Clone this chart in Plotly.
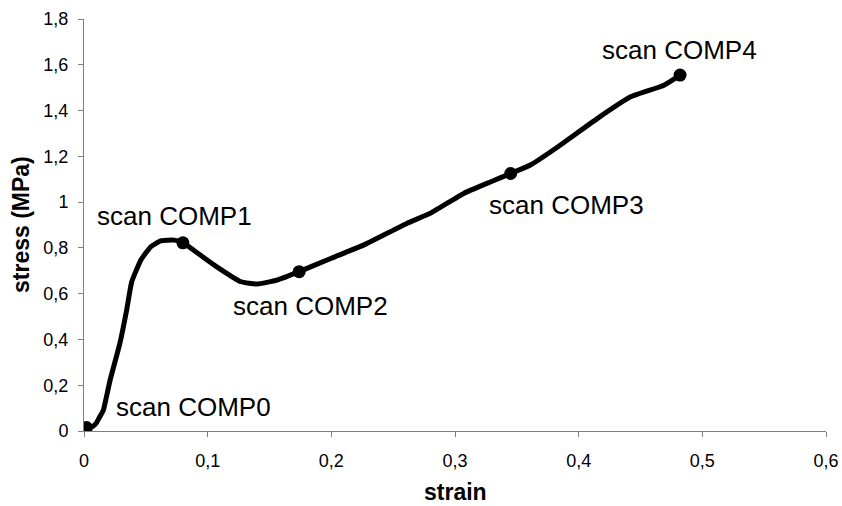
import plotly.graph_objects as go

# curve data (strain, stress in MPa)
strain = [0.002, 0.007, 0.010, 0.0125, 0.0156, 0.021, 0.029, 0.0345, 0.0386, 0.046, 0.054,
          0.062, 0.073, 0.080, 0.094, 0.108, 0.127, 0.140, 0.156, 0.174, 0.200, 0.226,
          0.261, 0.280, 0.307, 0.329, 0.345, 0.361, 0.383, 0.415, 0.442, 0.469, 0.482]
stress = [0.015, 0.020, 0.035, 0.060, 0.090, 0.220, 0.383, 0.529, 0.652, 0.747, 0.805,
          0.831, 0.834, 0.822, 0.769, 0.715, 0.652, 0.642, 0.659, 0.696, 0.755, 0.812,
          0.907, 0.951, 1.038, 1.089, 1.125, 1.162, 1.241, 1.365, 1.460, 1.511, 1.555]

# scan points
scan_labels = ["scan COMP0", "scan COMP1", "scan COMP2", "scan COMP3", "scan COMP4"]
scan_strain = [0.002, 0.080, 0.174, 0.345, 0.482]
scan_stress = [0.015, 0.822, 0.696, 1.125, 1.555]

# ticks
x_tickvals = [0, 0.1, 0.2, 0.3, 0.4, 0.5, 0.6]
x_ticktext = ["0", "0,1", "0,2", "0,3", "0,4", "0,5", "0,6"]
y_tickvals = [0, 0.2, 0.4, 0.6, 0.8, 1.0, 1.2, 1.4, 1.6, 1.8]
y_ticktext = ["0", "0,2", "0,4", "0,6", "0,8", "1", "1,2", "1,4", "1,6", "1,8"]

x_title = "strain"
y_title = "stress (MPa)"

FONT = "Arial, Liberation Sans, sans-serif"

fig = go.Figure()
fig.add_trace(go.Scatter(x=strain, y=stress, mode="lines",
                         line=dict(color="black", width=5, shape="spline", smoothing=0.4),
                         hoverinfo="skip", showlegend=False))
fig.add_trace(go.Scatter(x=scan_strain, y=scan_stress, mode="markers",
                         marker=dict(color="black", size=13),
                         showlegend=False))

# label offsets (pixels) relative to each scan point
label_pos = [
    dict(xanchor="left", xshift=28, yshift=21),
    dict(xanchor="center", xshift=-8, yshift=27),
    dict(xanchor="center", xshift=11, yshift=-34),
    dict(xanchor="center", xshift=56, yshift=-31),
    dict(xanchor="center", xshift=-1, yshift=25),
]
for lab, sx, sy, p in zip(scan_labels, scan_strain, scan_stress, label_pos):
    fig.add_annotation(x=sx, y=sy, text=lab, showarrow=False,
                       xanchor=p["xanchor"], yanchor="middle",
                       xshift=p["xshift"], yshift=p["yshift"],
                       font=dict(family=FONT, size=26, color="black"))

# axis titles
fig.add_annotation(x=0.5, y=0, xref="paper", yref="paper", text="<b>%s</b>" % x_title,
                   showarrow=False, xanchor="center", yanchor="middle", yshift=-61,
                   font=dict(family=FONT, size=23, color="black"))
fig.add_annotation(x=0, y=0.5, xref="paper", yref="paper", text="<b>%s</b>" % y_title,
                   showarrow=False, textangle=-90, xanchor="center", yanchor="middle",
                   xshift=-63, font=dict(family=FONT, size=23, color="black"))

axis_common = dict(showgrid=False, zeroline=False, showline=True, automargin=False,
                   linecolor="#808080", linewidth=1, ticks="outside",
                   ticklen=5, tickcolor="#808080", tickwidth=1,
                   tickfont=dict(family=FONT, size=18, color="black"))

fig.update_xaxes(range=[0, 0.6], tickvals=x_tickvals, ticktext=x_ticktext,
                 ticklabelstandoff=8, **axis_common)
fig.update_yaxes(range=[0, 1.8], tickvals=y_tickvals, ticktext=y_ticktext,
                 ticklabelstandoff=6, **axis_common)

fig.update_layout(width=842, height=506,
                  margin=dict(l=84, r=16, t=19, b=75),
                  plot_bgcolor="white", paper_bgcolor="white",
                  showlegend=False)

fig.write_html("out.html", config={"displayModeBar": False},
               post_script="document.body.style.margin='0';document.body.style.padding='0';document.body.style.overflow='hidden';")
